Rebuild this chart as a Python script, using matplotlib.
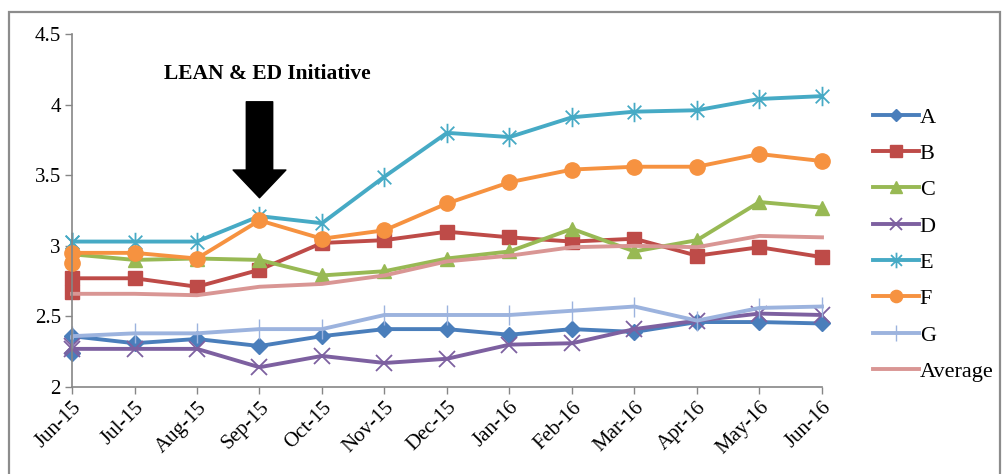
import numpy as np
import pandas as pd
import matplotlib
matplotlib.use('Agg')
import matplotlib.pyplot as plt
from matplotlib.path import Path
from matplotlib.patches import Rectangle

plt.rcParams['font.family'] = ['Liberation Serif', 'DejaVu Serif']

# Excel date axis: two readings fall in June 2015, so they share one x position
dates = ['2015-06-01', '2015-06-30', '2015-07-31', '2015-08-31', '2015-09-30',
         '2015-10-31', '2015-11-30', '2015-12-31', '2016-01-31', '2016-02-29',
         '2016-03-31', '2016-04-30', '2016-05-31', '2016-06-30']
month_labels = ['Jun-15', 'Jul-15', 'Aug-15', 'Sep-15', 'Oct-15', 'Nov-15', 'Dec-15',
                'Jan-16', 'Feb-16', 'Mar-16', 'Apr-16', 'May-16', 'Jun-16']

A = [2.24, 2.36, 2.31, 2.34, 2.29, 2.36, 2.41, 2.41, 2.37, 2.41, 2.39, 2.46, 2.46, 2.45]
B = [2.67, 2.77, 2.77, 2.71, 2.83, 3.02, 3.04, 3.10, 3.06, 3.03, 3.05, 2.93, 2.99, 2.92]
C = [2.93, 2.94, 2.90, 2.91, 2.90, 2.79, 2.82, 2.91, 2.96, 3.12, 2.96, 3.04, 3.31, 3.27]
D = [2.29, 2.27, 2.27, 2.27, 2.14, 2.22, 2.17, 2.20, 2.30, 2.31, 2.41, 2.47, 2.52, 2.51]
E = [3.03, 3.03, 3.03, 3.03, 3.21, 3.16, 3.49, 3.80, 3.77, 3.91, 3.95, 3.96, 4.04, 4.06]
F = [2.88, 2.95, 2.95, 2.91, 3.18, 3.05, 3.11, 3.30, 3.45, 3.54, 3.56, 3.56, 3.65, 3.60]
G = [2.35, 2.36, 2.38, 2.38, 2.41, 2.41, 2.51, 2.51, 2.51, 2.54, 2.57, 2.47, 2.56, 2.57]
Average = [2.66, 2.66, 2.66, 2.65, 2.71, 2.73, 2.79, 2.89, 2.93, 2.99, 3.00, 2.99, 3.07, 3.06]

periods = pd.to_datetime(dates).to_period('M')
x = np.array([(p - periods[0]).n for p in periods])

# excel style star: x plus a vertical bar
star = Path([(0, -1), (0, 1), (-0.7, -0.7), (0.7, 0.7), (-0.7, 0.7), (0.7, -0.7)],
            [Path.MOVETO, Path.LINETO] * 3)

styles = [
    ('A', A, '#4A7EBB', dict(marker='D', ms=8)),
    ('B', B, '#BE4B48', dict(marker='s', ms=10)),
    ('C', C, '#98B954', dict(marker='^', ms=10)),
    ('D', D, '#7D60A0', dict(marker='x', ms=11, mew=1.3)),
    ('E', E, '#46AAC5', dict(marker=star, ms=14, mew=1.3)),
    ('F', F, '#F69240', dict(marker='o', ms=11)),
    ('G', G, '#9CB3DE', dict(marker='|', ms=14, mew=1.0)),
    ('Average', Average, '#D99694', dict(marker='None')),
]

fig = plt.figure(figsize=(10.03, 4.74), dpi=100)
ax = fig.add_axes([72/1003, 1-387/474, 750/1003, 353/474])

for name, vals, col, mk in styles:
    ax.plot(x, vals, color=col, lw=2.8, label=name, mfc=col, mec=col,
            solid_joinstyle='round', clip_on=False, **mk)

ax.set_xlim(0, 12)
ax.set_ylim(2, 4.5)
ax.set_yticks([2, 2.5, 3, 3.5, 4, 4.5])
ax.set_yticklabels(['2', '2.5', '3', '3.5', '4', '4.5'])
ax.set_xticks(range(len(month_labels)))
ax.set_xticklabels(month_labels, rotation=45, ha='right', rotation_mode='anchor')
ax.tick_params(axis='both', colors='#868686', labelcolor='black', labelsize=15,
               length=5, width=1)
ax.tick_params(axis='x', pad=3)
ax.tick_params(axis='y', pad=3)
for s in ['top', 'right']:
    ax.spines[s].set_visible(False)
for s in ['left', 'bottom']:
    ax.spines[s].set_color('#868686')
    ax.spines[s].set_linewidth(1.2)

ax.annotate('', xy=(3, 3.34), xytext=(3, 4.02),
            arrowprops=dict(facecolor='black', edgecolor='black', width=19,
                            headwidth=38, headlength=20, shrink=0))
ax.text(3.13, 4.22, 'LEAN & ED Initiative', ha='center', va='center',
        fontsize=15.5, fontweight='bold')

fig.legend(loc='upper left', bbox_to_anchor=(873/1003, 1-107/474), frameon=False,
           fontsize=16, handlelength=2.05, handletextpad=0.05, labelspacing=0.71,
           borderaxespad=0, borderpad=0, markerscale=0.8)

fig.patches.append(Rectangle((9/1003, -0.05), 991/1003, 1.05 - 12/474,
                             transform=fig.transFigure, fill=False,
                             edgecolor='#8C8C8C', lw=1.6))

fig.savefig('out.png', dpi=100)
